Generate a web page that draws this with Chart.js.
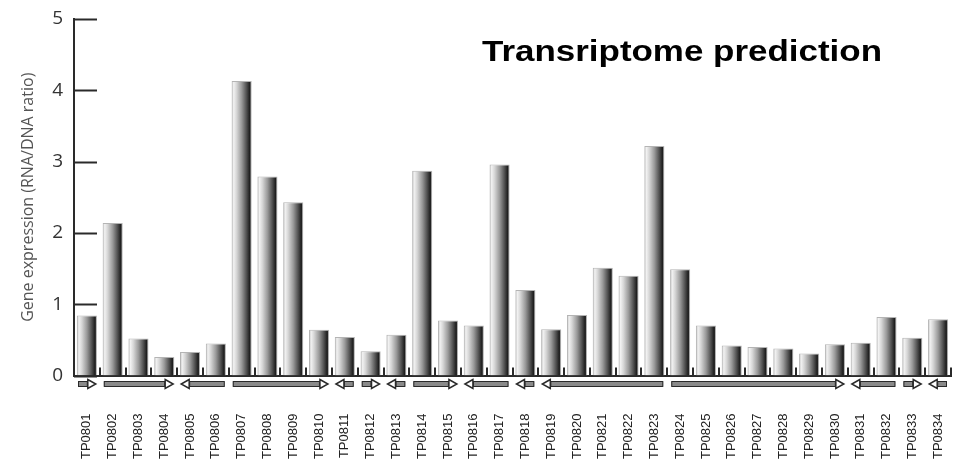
<!DOCTYPE html>
<html>
<head>
<meta charset="utf-8">
<script src="https://cdn.jsdelivr.net/npm/chart.js@4"></script>
<style>
  html, body { margin: 0; padding: 0; background: #fff; }
  #wrap { width: 963px; height: 465px; position: relative; }
</style>
</head>
<body>
<div id="wrap"><canvas id="chart"></canvas></div>
<script>
const genes = ["TP0801", "TP0802", "TP0803", "TP0804", "TP0805", "TP0806", "TP0807", "TP0808", "TP0809", "TP0810",
    "TP0811", "TP0812", "TP0813", "TP0814", "TP0815", "TP0816", "TP0817", "TP0818", "TP0819", "TP0820",
    "TP0821", "TP0822", "TP0823", "TP0824", "TP0825", "TP0826", "TP0827", "TP0828", "TP0829", "TP0830",
    "TP0831", "TP0832", "TP0833", "TP0834"];
const expression = [0.84, 2.14, 0.52, 0.26, 0.33, 0.45, 4.13, 2.79, 2.43, 0.64,
    0.54, 0.34, 0.57, 2.87, 0.77, 0.70, 2.96, 1.20, 0.65, 0.85,
    1.51, 1.40, 3.22, 1.49, 0.70, 0.42, 0.40, 0.38, 0.31, 0.44,
    0.46, 0.82, 0.53, 0.79];
const yTicks = [0, 1, 2, 3, 4, 5];
// operons: first gene index, last gene index, strand (1 = forward, -1 = reverse)
const operonFirst = [0, 1, 4, 6, 10, 11, 12, 13, 15, 17, 18, 23, 30, 32, 33];
const operonLast = [0, 3, 5, 9, 10, 11, 12, 14, 16, 17, 22, 29, 31, 32, 33];
const operonStrand = [1, 1, -1, 1, -1, 1, -1, 1, -1, -1, -1, 1, -1, 1, -1];

const BAR_PCT = 0.78;

function barGradient(ctx) {
    const chart = ctx.chart;
    const xs = chart.scales.x;
    if (!xs || ctx.dataIndex === undefined) return '#888';
    const cx = xs.getPixelForValue(ctx.dataIndex);
    const half = xs.width / genes.length * BAR_PCT / 2;
    if (!isFinite(cx) || !isFinite(half) || half <= 0) return '#888';
    const g = chart.ctx.createLinearGradient(cx - half, 0, cx + half, 0);
    g.addColorStop(0, '#a8a8a8');
    g.addColorStop(0.1, '#f2f2f2');
    g.addColorStop(0.25, '#d6d6d6');
    g.addColorStop(0.5, '#9a9a9a');
    g.addColorStop(0.75, '#4e4e4e');
    g.addColorStop(0.9, '#1e1e1e');
    g.addColorStop(1, '#404040');
    return g;
}

const decorations = {
    id: 'decorations',
    afterDatasetsDraw(chart) {
        const c = chart.ctx;
        const area = chart.chartArea;
        const xs = chart.scales.x;
        const ys = chart.scales.y;
        const step = xs.width / genes.length;
        c.save();
        c.strokeStyle = '#2a2a2a';
        // inward y ticks
        c.lineWidth = 2;
        yTicks.forEach(v => {
            const y = Math.round(ys.getPixelForValue(v)) + 0.5;
            c.beginPath();
            c.moveTo(area.left, y);
            c.lineTo(area.left + 23, y);
            c.stroke();
        });
        // small ticks between genes
        for (let i = 1; i <= genes.length; i++) {
            const x = Math.round(xs.getPixelForValue(i - 0.5));
            c.beginPath();
            c.moveTo(x, area.bottom);
            c.lineTo(x, area.bottom - 8);
            c.stroke();
        }
        // operon arrows
        const yc = area.bottom + 8.5;
        operonFirst.forEach((first, k) => {
            let x1 = xs.getPixelForValue(first) - step / 2 + 4;
            let x2 = xs.getPixelForValue(operonLast[k]) + step / 2 - 4;
            const dir = operonStrand[k];
            const head = 8;
            const tip = dir > 0 ? x2 : x1;
            const base = dir > 0 ? x2 - head : x1 + head;
            const s1 = dir > 0 ? x1 : base;
            const s2 = dir > 0 ? base : x2;
            c.lineWidth = 1;
            c.fillStyle = '#8a8a8a';
            c.fillRect(s1, yc - 2.5, s2 - s1, 5);
            c.strokeRect(s1 + 0.5, yc - 2.5, s2 - s1 - 1, 5);
            c.beginPath();
            c.moveTo(base, yc - 4.5);
            c.lineTo(tip, yc);
            c.lineTo(base, yc + 4.5);
            c.closePath();
            c.fillStyle = '#fff';
            c.fill();
            c.lineWidth = 1.5;
            c.stroke();
        });
        // title inside the plot
        c.fillStyle = '#000';
        c.font = 'bold 30px "Liberation Sans", Arial, sans-serif';
        c.textAlign = 'left';
        c.textBaseline = 'alphabetic';
        const text = 'Transriptome prediction';
        const w = c.measureText(text).width;
        const right = area.right - 69;
        const sx = 400 / w;
        c.translate(right - 400, 61);
        c.scale(sx, 1);
        c.fillText(text, 0, 0);
        c.restore();
    }
};

new Chart(document.getElementById('chart'), {
    type: 'bar',
    data: {
        labels: genes,
        datasets: [{
            data: expression,
            backgroundColor: barGradient,
            borderColor: '#b4b4b4',
            borderWidth: 1,
            barPercentage: BAR_PCT,
            categoryPercentage: 1
        }]
    },
    options: {
        responsive: true,
        maintainAspectRatio: false,
        animation: false,
        layout: { padding: { top: 19, right: 12, bottom: 0, left: 0 } },
        plugins: {
            legend: { display: false },
            tooltip: { enabled: false }
        },
        scales: {
            x: {
                afterFit(scale) {
                    scale.height = 89.5;
                    scale.paddingLeft = 0;
                    scale.paddingRight = 0;
                },
                grid: { display: false, drawTicks: false },
                border: { display: true, color: '#2a2a2a', width: 2 },
                ticks: {
                    maxRotation: 90,
                    minRotation: 90,
                    autoSkip: false,
                    padding: 38,
                    color: '#222',
                    font: { family: '"Liberation Sans", Arial, sans-serif', size: 13 }
                }
            },
            y: {
                min: 0,
                max: 5,
                afterFit(scale) {
                    scale.width = 74;
                    scale.paddingTop = 0;
                    scale.paddingBottom = 0;
                },
                grid: { display: false, drawTicks: false },
                border: { display: true, color: '#2a2a2a', width: 2 },
                ticks: {
                    stepSize: 1,
                    padding: 11,
                    color: '#333',
                    font: { family: '"Open Sans", sans-serif', size: 19 }
                },
                title: {
                    display: true,
                    text: 'Gene expression (RNA/DNA ratio)',
                    color: '#555',
                    padding: { top: 19, bottom: 0 },
                    font: { family: '"Open Sans", sans-serif', size: 16 }
                }
            }
        }
    },
    plugins: [decorations]
});
</script>
</body>
</html>
